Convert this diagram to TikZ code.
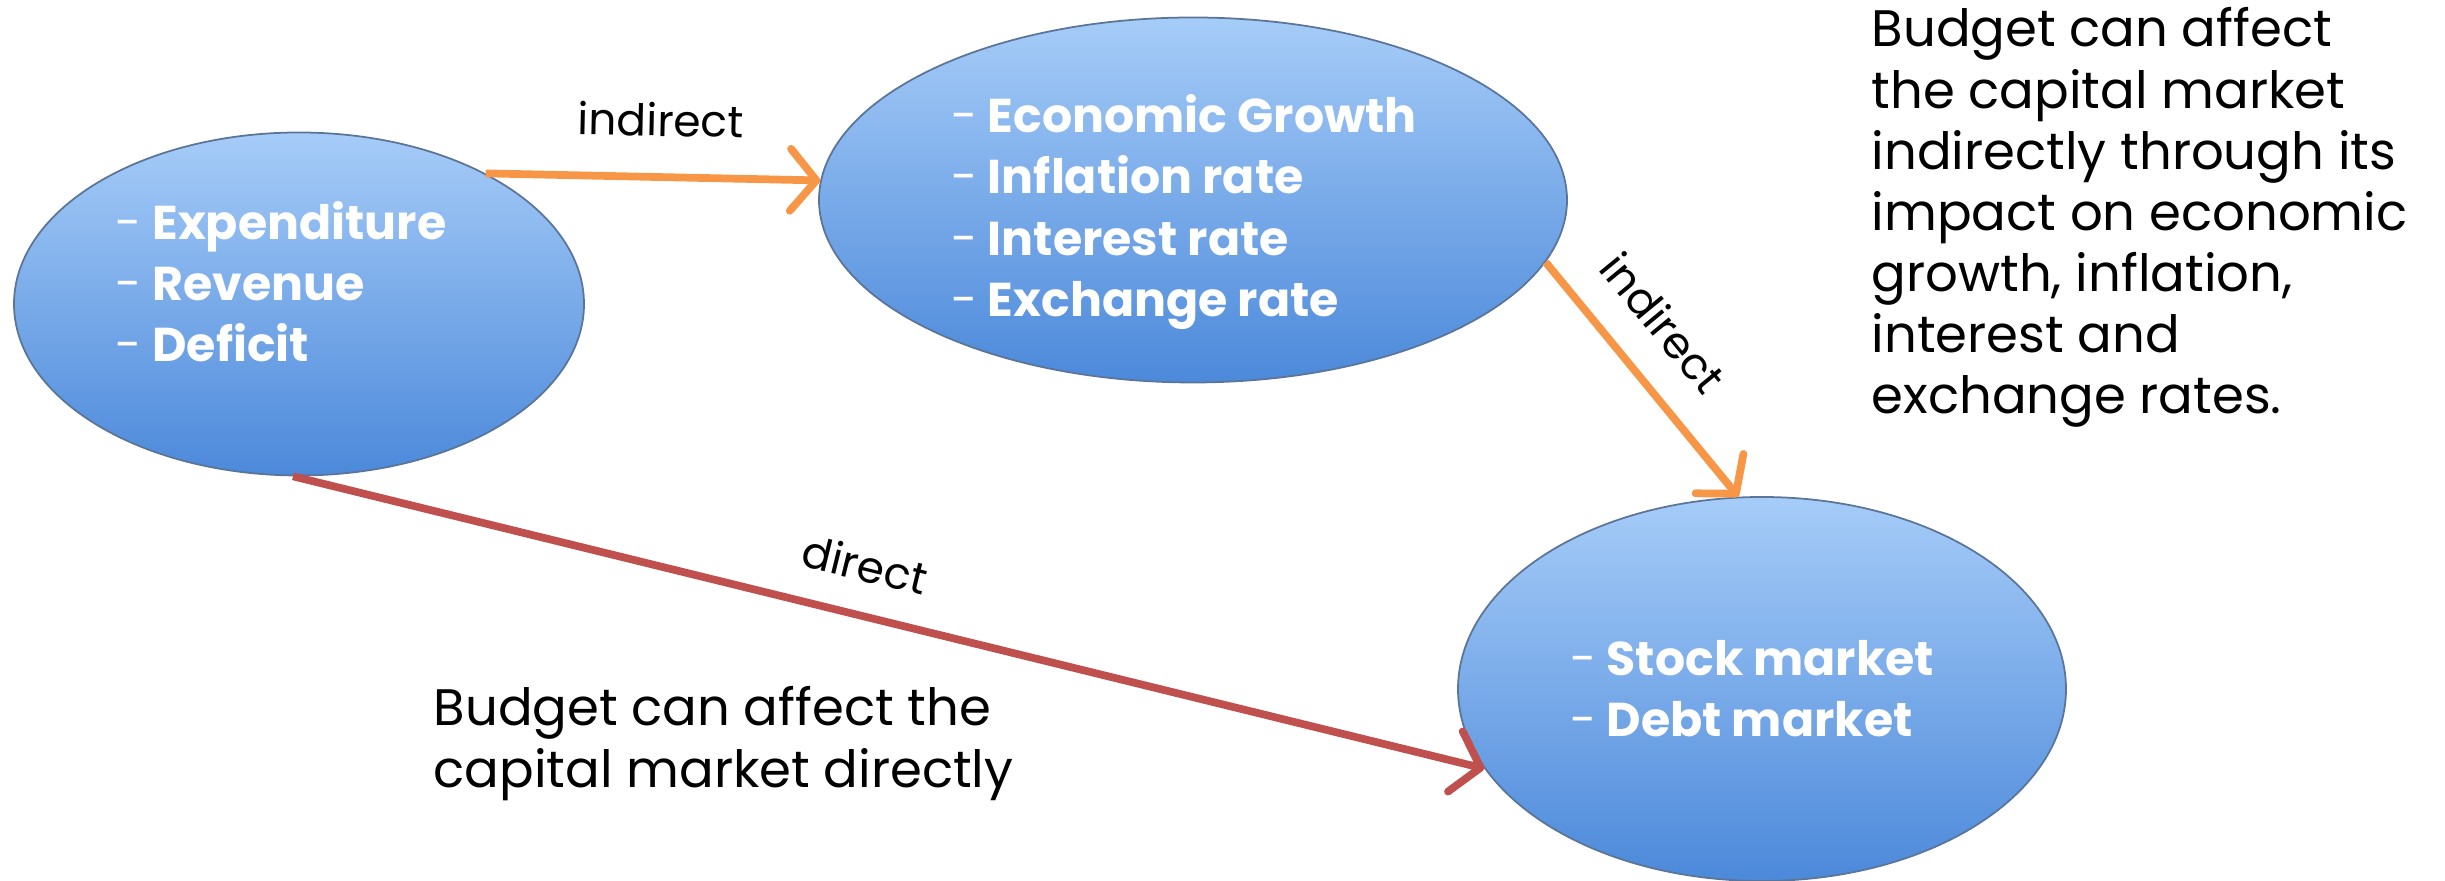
\documentclass[tikz,border=0pt]{standalone}
\usepackage{fontspec}
\setmainfont{Poppins}
\usetikzlibrary{shapes,arrows,arrows.meta,positioning,calc}

\definecolor{linkorange}{HTML}{F79646}
\definecolor{linkred}{HTML}{C0504D}
\definecolor{blobtop}{HTML}{A6CCF8}
\definecolor{blobbot}{HTML}{4C89DA}
\definecolor{blobrim}{HTML}{5A7598}

\tikzset{
  blob/.style={draw=blobrim, line width=0.5pt, ellipse, top color=blobtop, bottom color=blobbot, inner sep=0pt},
  blobtext/.style={text=white, align=left, inner sep=0pt, font=\fontsize{13.5}{17.4}\selectfont},
  link/.style={line width=2.2pt, -{Straight Barb[round,length=2.6mm,width=6.2mm]}},
  linklabel/.style={text=black, font=\fontsize{12.5}{14}\selectfont, sloped},
  note/.style={align=left, anchor=north west, inner sep=0pt, font=\fontsize{14.6}{17.4}\selectfont}
}

\begin{document}
\begin{tikzpicture}
\useasboundingbox (0,0) rectangle (24.45,8.81);

% Budget items
\node[blob, minimum width=5.7cm, minimum height=3.43cm] (budget) at (2.99, 5.77) {};
\node[blobtext] (budgetitems) at ($(budget.center)+(-0.18,0.22)$)
  {-\hspace{3pt}\textbf{Expenditure}\\-\hspace{3pt}\textbf{Revenue}\\-\hspace{3pt}\textbf{Deficit}};

% Macro variables
\node[blob, minimum width=7.48cm, minimum height=3.65cm] (macro) at (11.93, 6.81) {};
\node[blobtext] (macroitems) at ($(macro.center)+(-0.09,-0.12)$)
  {-\hspace{3pt}\textbf{Economic Growth}\\-\hspace{3pt}\textbf{Inflation rate}\\-\hspace{3pt}\textbf{Interest rate}\\-\hspace{3pt}\textbf{Exchange rate}};

% Capital market
\node[blob, minimum width=6.08cm, minimum height=3.84cm] (capital) at (17.62, 1.92) {};
\node[blobtext] (capitalitems) at ($(capital.center)+(-0.1,0)$)
  {-\hspace{3pt}\textbf{Stock market}\\-\hspace{3pt}\textbf{Debt market}};

% Links
\draw[link, linkorange] (budget.35) -- node[linklabel, pos=0.52, above=2.5mm] {indirect} (macro.177);
\draw[link, linkorange] (macro.-10) -- node[linklabel, pos=0.4, above=2mm] {indirect} (capital.97);
\draw[link, linkred] (budget.-92) -- node[linklabel, pos=0.47, above=1.8mm] {direct} (capital.196);

% Notes
\node[note] (indirectnote) at (18.71, 8.74) {Budget can affect\\the capital market\\indirectly through its\\impact on economic\\growth, inflation,\\interest and\\exchange rates.};
\node[note] (directnote) at (4.33, 1.95) {Budget can affect the\\capital market directly};

\end{tikzpicture}
\end{document}
